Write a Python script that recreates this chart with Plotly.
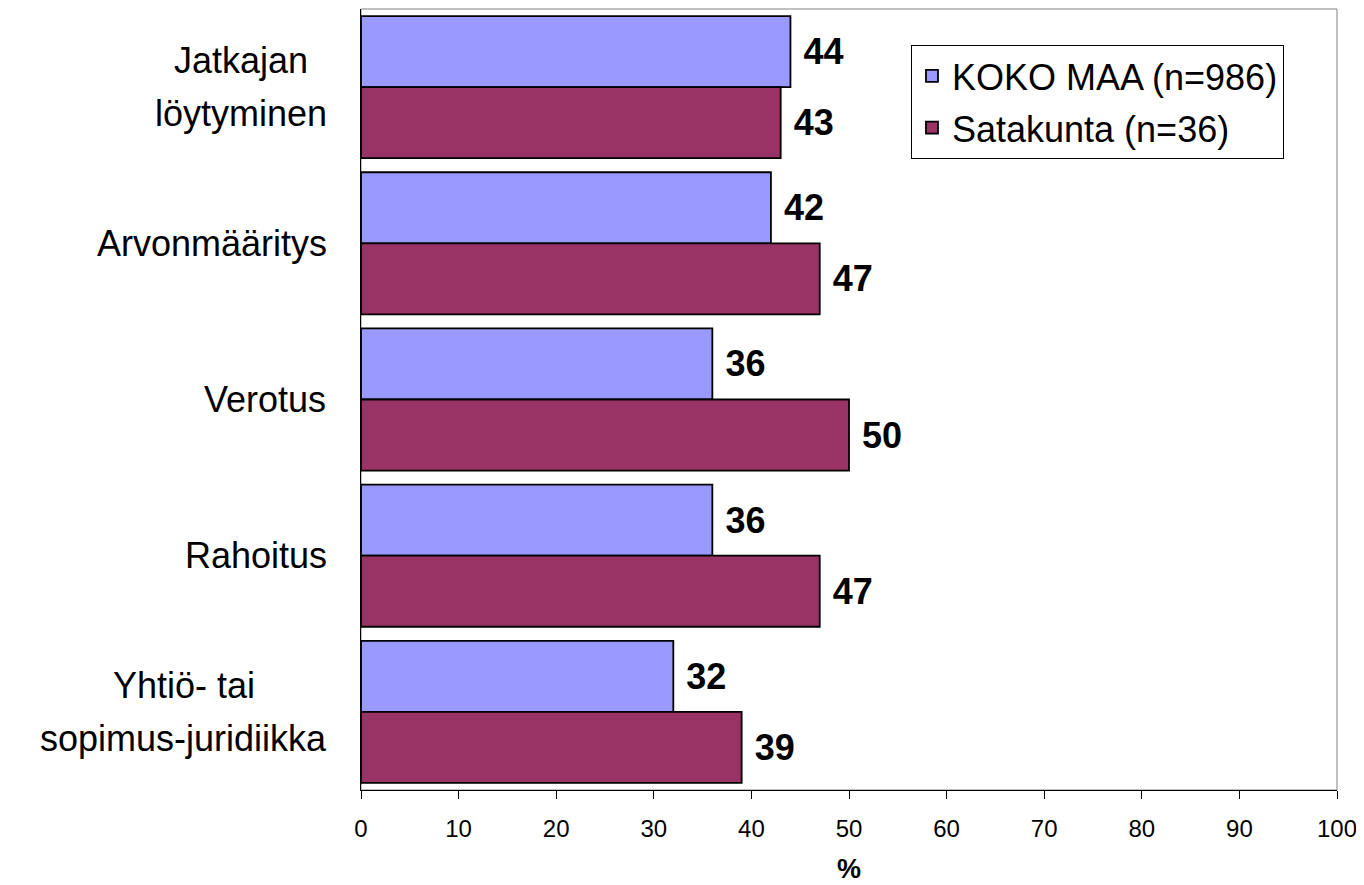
import plotly.graph_objects as go

categories = ["Jatkajan<br>löytyminen", "Arvonmääritys", "Verotus", "Rahoitus", "Yhtiö- tai<br>sopimus-juridiikka"]
koko_maa = [44, 42, 36, 36, 32]
satakunta = [43, 47, 50, 47, 39]
series_names = ["KOKO MAA (n=986)", "Satakunta (n=36)"]
tick_vals = [0, 10, 20, 30, 40, 50, 60, 70, 80, 90, 100]

FONT = "Liberation Sans, Arial, sans-serif"

# approximate Arial / Liberation Sans advance widths (em) used to centre multi-line labels
CHAR_W = {"J": .5, "a": .556, "t": .278, "k": .5, "j": .222, "n": .556, "l": .222, "ö": .556,
          "y": .5, "m": .833, "i": .222, "e": .556, "Y": .667, "h": .556, "-": .333, " ": .278,
          "s": .5, "o": .556, "p": .556, "u": .556, "r": .333, "d": .556, "A": .667, "v": .5,
          "ä": .556, "V": .667, "R": .722, "c": .5}


def text_w(s, size):
    return sum(CHAR_W.get(ch, .556) for ch in s) * size


fig = go.Figure()
for i, (name, vals, color) in enumerate([(series_names[0], koko_maa, "#9999FF"),
                                         (series_names[1], satakunta, "#993366")]):
    fig.add_trace(go.Bar(
        y=categories, x=vals, name=name, orientation="h", legendgroup="g%d" % i,
        marker=dict(color=color, line=dict(color="black", width=1.8)),
        text=[str(v) for v in vals], textposition="outside",
        textfont=dict(family=FONT, size=36, color="black"),
        texttemplate=" <b>%{text}</b>", cliponaxis=False,
    ))

LAB_SIZE = 36
LINE_H = 53
for c in categories:
    lines = c.split("<br>")
    n = len(lines)
    block_w = max(text_w(ln, LAB_SIZE) for ln in lines)
    for k, ln in enumerate(lines):
        fig.add_annotation(x=0, y=c, xref="paper", yref="y", xanchor="center", yanchor="middle",
                           xshift=-34 - block_w / 2, yshift=((n - 1) / 2 - k) * LINE_H,
                           text=ln, showarrow=False, align="center",
                           font=dict(family=FONT, size=LAB_SIZE, color="black"))

fig.add_shape(type="rect", xref="paper", yref="paper", x0=0, x1=1, y0=0, y1=1,
              line=dict(color="#808080", width=1), layer="below")

fig.update_layout(
    width=1356, height=877,
    margin=dict(l=353, r=27, t=1, b=95),
    paper_bgcolor="white", plot_bgcolor="white",
    barmode="group", bargap=0.09, bargroupgap=0,
    font=dict(family=FONT, color="black"),
    showlegend=True,
    legend=dict(x=0.5635, y=0.954, xanchor="left", yanchor="top",
                bgcolor="white", bordercolor="black", borderwidth=1,
                font=dict(family=FONT, size=36, color="black"),
                tracegroupgap=2),
    xaxis=dict(range=[0, 100], tickvals=tick_vals, ticks="outside", ticklen=8,
               tickcolor="black", showline=True, linecolor="black", linewidth=1,
               showgrid=False, zeroline=False, ticklabelstandoff=9,
               tickfont=dict(family=FONT, size=24, color="black"),
               title=dict(text="<b>%</b>", font=dict(family=FONT, size=27, color="black"), standoff=18)),
    yaxis=dict(autorange="reversed", showticklabels=False, showline=True, linecolor="black",
               linewidth=1, showgrid=False, ticks=""),
)

fig.write_html("out.html")
